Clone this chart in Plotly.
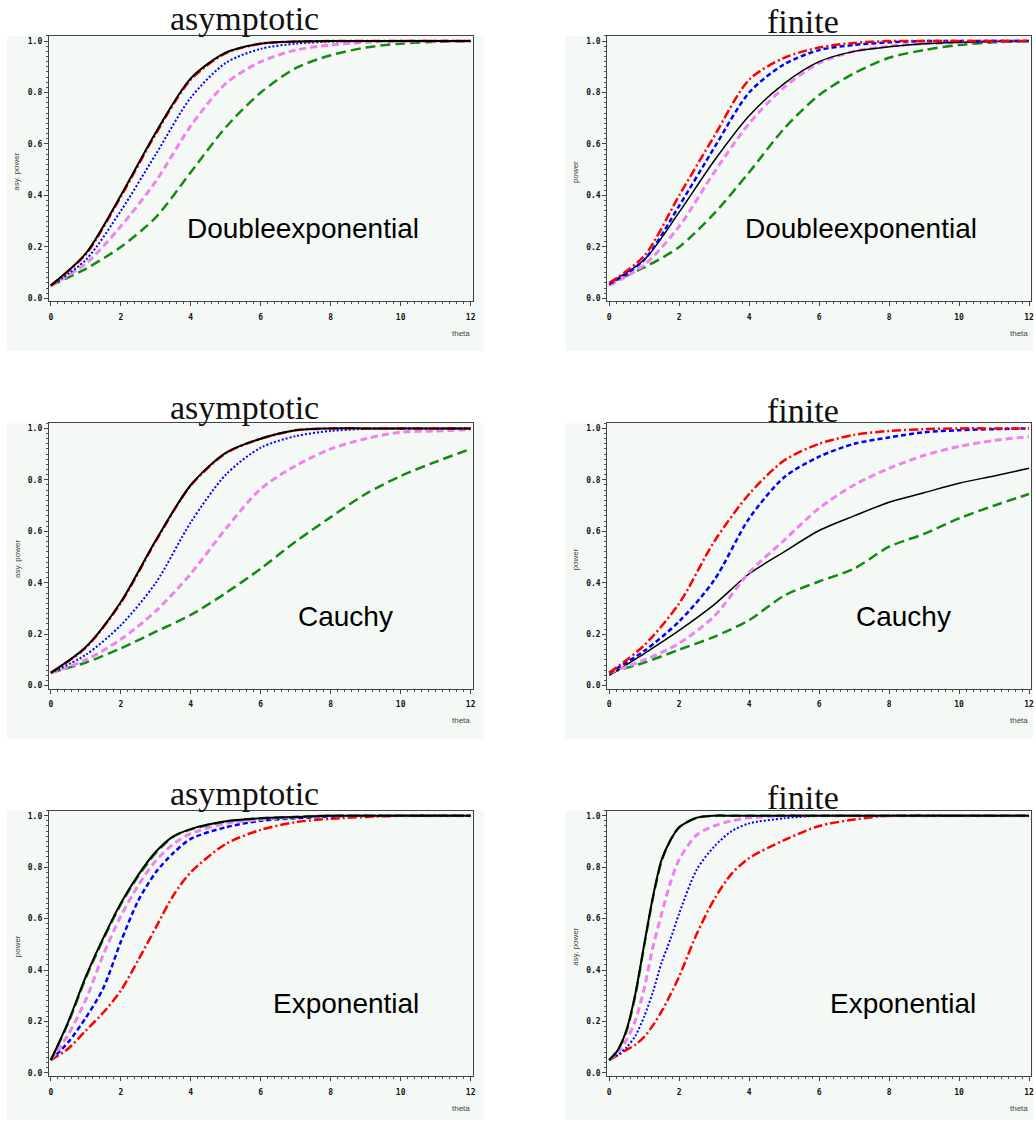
import plotly.graph_objects as go

W, H = 1036, 1122

# ---------------- data ----------------
THETA = [0, 1, 2, 3, 4, 5, 6, 7, 8, 9, 10, 11, 12]

# Doubleexponential, asymptotic
DE_ASY_BLACK = [0.05, 0.175, 0.40, 0.645, 0.855, 0.955, 0.99, 0.998, 1, 1, 1, 1, 1]
DE_ASY_RED = [0.05, 0.172, 0.395, 0.64, 0.85, 0.953, 0.99, 0.998, 1, 1, 1, 1, 1]
DE_ASY_BLUE = [0.05, 0.15, 0.34, 0.56, 0.78, 0.915, 0.97, 0.99, 0.998, 1, 1, 1, 1]
DE_ASY_VIOLET = [0.05, 0.135, 0.28, 0.455, 0.67, 0.835, 0.92, 0.965, 0.985, 0.995, 1, 1, 1]
DE_ASY_GREEN = [0.05, 0.115, 0.20, 0.315, 0.49, 0.665, 0.80, 0.895, 0.945, 0.975, 0.99, 0.997, 1]

# Doubleexponential, finite
DE_FIN_RED = [0.06, 0.165, 0.40, 0.63, 0.85, 0.935, 0.975, 0.993, 1, 1, 1, 1, 1]
DE_FIN_BLUE = [0.055, 0.15, 0.36, 0.585, 0.80, 0.91, 0.965, 0.985, 0.995, 1, 1, 1, 1]
DE_FIN_BLACK = [0.06, 0.15, 0.335, 0.535, 0.71, 0.835, 0.92, 0.96, 0.978, 0.99, 0.995, 0.998, 1]
DE_FIN_VIOLET = [0.05, 0.13, 0.28, 0.49, 0.68, 0.82, 0.915, 0.96, 0.98, 0.99, 0.995, 1, 1]
DE_FIN_GREEN = [0.06, 0.12, 0.20, 0.33, 0.49, 0.66, 0.79, 0.875, 0.935, 0.965, 0.985, 0.995, 1]

# Cauchy, asymptotic
CA_ASY_BLACK = [0.05, 0.15, 0.325, 0.565, 0.78, 0.905, 0.96, 0.993, 1, 1, 1, 1, 1]
CA_ASY_RED = [0.05, 0.148, 0.322, 0.562, 0.778, 0.903, 0.96, 0.993, 1, 1, 1, 1, 1]
CA_ASY_BLUE = [0.05, 0.12, 0.235, 0.40, 0.635, 0.82, 0.925, 0.97, 0.99, 0.998, 1, 1, 1]
CA_ASY_VIOLET = [0.05, 0.10, 0.18, 0.29, 0.435, 0.61, 0.765, 0.855, 0.92, 0.96, 0.985, 0.99, 0.995]
CA_ASY_GREEN = [0.05, 0.09, 0.145, 0.21, 0.275, 0.36, 0.455, 0.56, 0.655, 0.745, 0.815, 0.87, 0.92]

# Cauchy, finite
CA_FIN_RED = [0.05, 0.157, 0.32, 0.56, 0.745, 0.875, 0.94, 0.975, 0.99, 0.997, 1, 1, 1]
CA_FIN_BLUE = [0.05, 0.135, 0.25, 0.41, 0.65, 0.81, 0.89, 0.94, 0.965, 0.985, 0.993, 0.997, 1]
CA_FIN_VIOLET = [0.05, 0.10, 0.165, 0.27, 0.44, 0.565, 0.69, 0.78, 0.845, 0.895, 0.93, 0.953, 0.968]
CA_FIN_BLACK = [0.04, 0.125, 0.215, 0.315, 0.435, 0.52, 0.603, 0.66, 0.713, 0.75, 0.787, 0.815, 0.845]
CA_FIN_GREEN = [0.05, 0.09, 0.14, 0.19, 0.255, 0.35, 0.405, 0.455, 0.54, 0.59, 0.65, 0.70, 0.745]

# Exponential, asymptotic
THETA_EX_ASY = [0, 0.5, 1, 1.5, 2, 2.5, 3, 3.5, 4, 5, 6, 7, 8, 9, 10, 12]
EX_ASY_GREEN = [0.05, 0.195, 0.37, 0.52, 0.655, 0.765, 0.855, 0.918, 0.947, 0.977, 0.99, 0.995, 1, 1, 1, 1]
EX_ASY_BLACK = [0.05, 0.20, 0.375, 0.525, 0.66, 0.77, 0.86, 0.92, 0.948, 0.978, 0.99, 0.995, 1, 1, 1, 1]
EX_ASY_VIOLET = [0.05, 0.15, 0.285, 0.46, 0.61, 0.73, 0.825, 0.89, 0.93, 0.97, 0.985, 0.995, 1, 1, 1, 1]
EX_ASY_BLUE = [0.05, 0.12, 0.215, 0.33, 0.51, 0.67, 0.78, 0.855, 0.91, 0.955, 0.98, 0.99, 0.997, 1, 1, 1]
EX_ASY_RED = [0.05, 0.095, 0.165, 0.235, 0.32, 0.44, 0.565, 0.69, 0.78, 0.89, 0.945, 0.975, 0.988, 0.995, 1, 1]

# Exponential, finite
THETA_EX_FIN = [0, 0.25, 0.5, 0.75, 1, 1.25, 1.5, 1.75, 2, 2.5, 3, 3.5, 4, 5, 6, 7, 8, 10, 12]
EX_FIN_GREEN = [0.05, 0.09, 0.165, 0.305, 0.495, 0.68, 0.825, 0.905, 0.955, 0.992, 1, 1, 1, 1, 1, 1, 1, 1, 1]
EX_FIN_BLACK = [0.05, 0.09, 0.17, 0.31, 0.50, 0.685, 0.83, 0.905, 0.955, 0.992, 1, 1, 1, 1, 1, 1, 1, 1, 1]
EX_FIN_VIOLET = [0.05, 0.08, 0.13, 0.205, 0.33, 0.49, 0.62, 0.74, 0.83, 0.925, 0.96, 0.98, 0.992, 1, 1, 1, 1, 1, 1]
EX_FIN_BLUE = [0.05, 0.07, 0.10, 0.145, 0.22, 0.315, 0.43, 0.52, 0.62, 0.79, 0.88, 0.94, 0.97, 0.99, 1, 1, 1, 1, 1]
EX_FIN_RED = [0.05, 0.07, 0.09, 0.11, 0.14, 0.185, 0.24, 0.305, 0.375, 0.54, 0.675, 0.775, 0.835, 0.905, 0.96, 0.985, 1, 1, 1]

PANEL_TITLES = ["asymptotic", "finite", "asymptotic", "finite", "asymptotic", "finite"]
DIST_LABELS = ["Doubleexponential", "Doubleexponential", "Cauchy", "Cauchy", "Exponential", "Exponential"]
Y_TITLES = ["asy. power", "power", "asy. power", "power", "power", "asy. power"]
X_TITLE = "theta"
Y_TICKS = [0, 0.2, 0.4, 0.6, 0.8, 1.0]
X_TICKS = [0, 2, 4, 6, 8, 10, 12]

# ---------------- styles ----------------
BG = "#f5f9f5"
RED = "#ff0000"
BLUE = "#0000ff"
VIOLET = "#ee82ee"
GREEN = "#138a13"
BLACK = "#000000"

STY = {
    "red": dict(color=RED, width=2.5, dash="9px,3px,2px,3px"),
    "blue_dot": dict(color=BLUE, width=2, dash="2px,2px"),
    "blue_dash": dict(color=BLUE, width=2.5, dash="5px,3px"),
    "violet": dict(color=VIOLET, width=3, dash="7px,4px"),
    "green": dict(color=GREEN, width=2.5, dash="10px,5px"),
    "black": dict(color=BLACK, width=2),
    "black_thin": dict(color=BLACK, width=1.5),
}

panels = [
    (THETA, [(DE_ASY_GREEN, "green"), (DE_ASY_VIOLET, "violet"), (DE_ASY_BLUE, "blue_dot"),
             (DE_ASY_RED, "red"), (DE_ASY_BLACK, "black")]),
    (THETA, [(DE_FIN_GREEN, "green"), (DE_FIN_VIOLET, "violet"), (DE_FIN_BLACK, "black_thin"),
             (DE_FIN_BLUE, "blue_dash"), (DE_FIN_RED, "red")]),
    (THETA, [(CA_ASY_GREEN, "green"), (CA_ASY_VIOLET, "violet"), (CA_ASY_BLUE, "blue_dot"),
             (CA_ASY_RED, "red"), (CA_ASY_BLACK, "black")]),
    (THETA, [(CA_FIN_GREEN, "green"), (CA_FIN_BLACK, "black_thin"), (CA_FIN_VIOLET, "violet"),
             (CA_FIN_BLUE, "blue_dash"), (CA_FIN_RED, "red")]),
    (THETA_EX_ASY, [(EX_ASY_RED, "red"), (EX_ASY_BLUE, "blue_dash"), (EX_ASY_VIOLET, "violet"),
                    (EX_ASY_GREEN, "green"), (EX_ASY_BLACK, "black")]),
    (THETA_EX_FIN, [(EX_FIN_RED, "red"), (EX_FIN_BLUE, "blue_dot"), (EX_FIN_VIOLET, "violet"),
                    (EX_FIN_GREEN, "green"), (EX_FIN_BLACK, "black")]),
]

# geometry in page pixels
COLS = [dict(fl=49, fr=474, bl=7, br=485, cx=245, lab=304, labx2=347, ytx=17, thx=462),
        dict(fl=609, fr=1034, bl=567, br=1036, cx=805, lab=864, labx2=906, ytx=577, thx=1022)]
ROWS = [dict(ft=36, fb=302, bb=352, tA=19, tF=22, laby=229, thy=334),
        dict(ft=424, fb=690, bb=740, tA=408, tF=411, laby=618, thy=722),
        dict(ft=812, fb=1078, bb=1122, tA=795, tF=799, laby=1005, thy=1110)]


def px(x):
    return min(1.0, max(0.0, x / W))


def py(y):
    return min(1.0, max(0.0, 1 - y / H))


fig = go.Figure()
shapes = []
annotations = []
layout_axes = {}

for i, (xs, curves) in enumerate(panels):
    r, c = divmod(i, 2)
    col, row = COLS[c], ROWS[r]
    n = i + 1
    xa = "x" if n == 1 else f"x{n}"
    ya = "y" if n == 1 else f"y{n}"
    for ys, sty in curves:
        fig.add_trace(go.Scatter(x=xs, y=ys, mode="lines", xaxis=xa, yaxis=ya,
                                 line=dict(shape="spline", smoothing=0.8, **STY[sty]),
                                 showlegend=False, hoverinfo="skip"))
    axis_common = dict(showline=True, mirror=True, linecolor="#444", linewidth=1,
                       ticks="outside", ticklen=4, tickcolor="#444", tickwidth=1,
                       showgrid=False, zeroline=False,
                       tickfont=dict(family="DejaVu Sans Mono", size=8, color="#111", weight="bold"))
    layout_axes["xaxis" if n == 1 else f"xaxis{n}"] = dict(
        axis_common, domain=[px(col["fl"]), px(col["fr"])], anchor=ya,
        range=[-0.057, 12.057], tickvals=X_TICKS, ticktext=[str(v) for v in X_TICKS],
        ticklabelstandoff=4,
        minor=dict(ticks="outside", ticklen=2, dtick=0.2, tick0=0, tickcolor="#555"))
    layout_axes["yaxis" if n == 1 else f"yaxis{n}"] = dict(
        axis_common, domain=[py(row["fb"]), py(row["ft"])], anchor=xa,
        range=[-0.012, 1.02], tickvals=Y_TICKS, ticktext=[f"{v:.1f}" for v in Y_TICKS],
        minor=dict(ticks="outside", ticklen=2, dtick=0.02, tick0=0, tickcolor="#555"))

    shapes.append(dict(type="rect", xref="paper", yref="paper", layer="below",
                       x0=px(col["bl"]), x1=px(col["br"]), y0=py(row["bb"]), y1=py(row["ft"]),
                       fillcolor=BG, line=dict(width=0)))
    ty = row["tA"] if c == 0 else row["tF"]
    annotations.append(dict(text=PANEL_TITLES[i], xref="paper", yref="paper",
                            x=px(col["cx"]), y=py(ty), xanchor="center", yanchor="middle",
                            showarrow=False,
                            font=dict(family="Liberation Serif", size=34, color="#111")))
    lx = col["lab"] if r == 0 else col["labx2"]
    annotations.append(dict(text=DIST_LABELS[i], xref="paper", yref="paper",
                            x=px(lx), y=py(row["laby"]), xanchor="center", yanchor="middle",
                            showarrow=False,
                            font=dict(family="Liberation Sans", size=28, color="#000")))
    annotations.append(dict(text=Y_TITLES[i], xref="paper", yref="paper",
                            x=px(col["ytx"]), y=py((row["ft"] + row["fb"]) / 2 + 3),
                            xanchor="center", yanchor="middle", textangle=-90, showarrow=False,
                            font=dict(family="Liberation Sans", size=8, color="#444")))
    annotations.append(dict(text=X_TITLE, xref="paper", yref="paper",
                            x=px(col["thx"]), y=py(row["thy"]), xanchor="center", yanchor="middle",
                            showarrow=False,
                            font=dict(family="Liberation Sans", size=8, color="#444")))

fig.update_layout(width=W, height=H, margin=dict(l=0, r=0, t=0, b=0),
                  paper_bgcolor="white", plot_bgcolor=BG,
                  shapes=shapes, annotations=annotations, **layout_axes)

fig.write_html("out.html", config={"displayModeBar": False},
               post_script="document.body.style.margin='0';document.body.style.overflow='hidden';")
